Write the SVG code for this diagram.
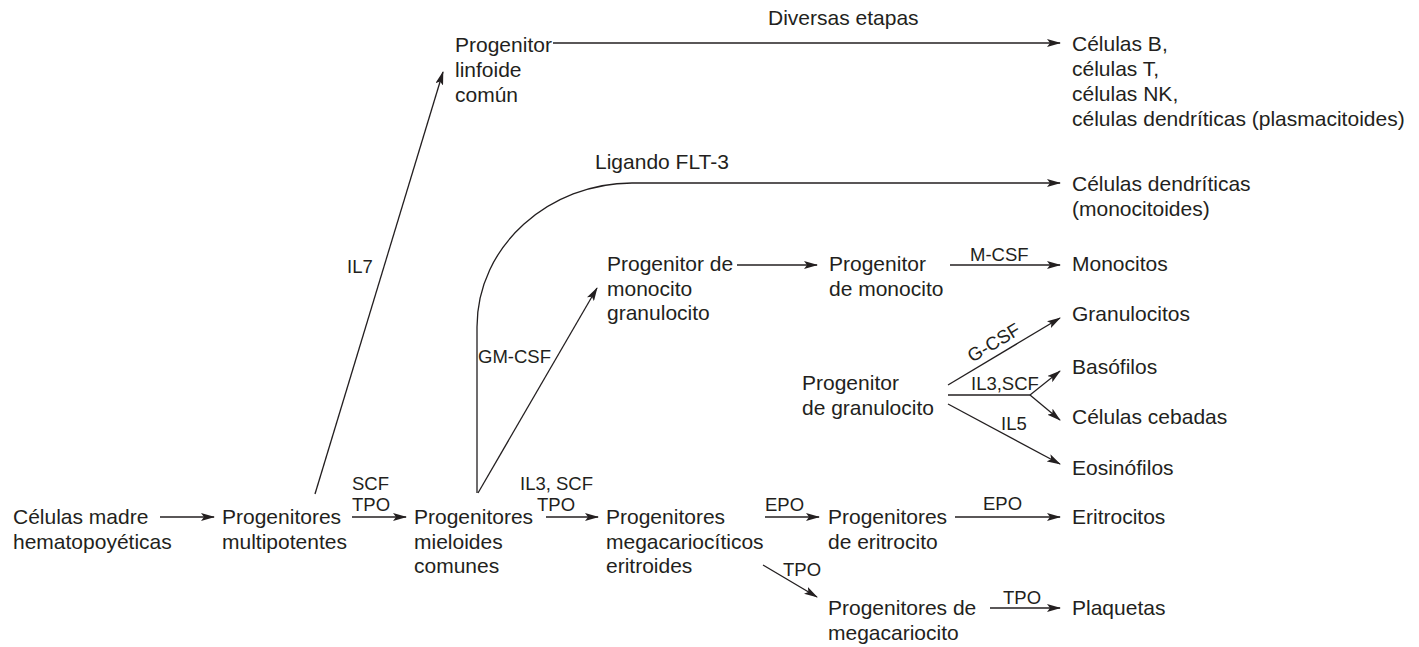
<svg xmlns="http://www.w3.org/2000/svg" width="1419" height="647" viewBox="0 0 1419 647">
<defs>
<marker id="ah" viewBox="0 0 14 8" markerWidth="14" markerHeight="8" refX="13" refY="4" orient="auto" markerUnits="userSpaceOnUse">
<path d="M0,0 L14,4 L0,8 L3,4 z" fill="#231f20"/>
</marker>
<style>
text{font-family:"Liberation Sans",Arial,sans-serif;fill:#231f20}
.n{font-size:21px}
.l{font-size:18.5px}
.c{fill:none;stroke:#231f20;stroke-width:1.3}
.a{marker-end:url(#ah)}
</style>
</defs>
<rect width="1419" height="647" fill="#fff"/>
<g id="connectors">
<line class="c a" x1="160" y1="517" x2="214" y2="517"/>
<line class="c a" x1="352" y1="517" x2="406" y2="517"/>
<line class="c a" x1="315" y1="494" x2="443" y2="72"/>
<line class="c a" x1="553" y1="43" x2="1060" y2="43"/>
<path class="c a" d="M477,493 L477,327 C477,245 550,183 632,183 L1060,183"/>
<line class="c a" x1="478" y1="493" x2="597" y2="288"/>
<line class="c a" x1="737" y1="265" x2="817" y2="265"/>
<line class="c a" x1="950" y1="265" x2="1060" y2="265"/>
<line class="c a" x1="546" y1="517" x2="598" y2="517"/>
<line class="c a" x1="765" y1="517" x2="819" y2="517"/>
<line class="c a" x1="763" y1="565" x2="817" y2="597"/>
<line class="c a" x1="955" y1="517" x2="1060" y2="517"/>
<line class="c a" x1="990" y1="608" x2="1060" y2="608"/>
<line class="c a" x1="948" y1="385" x2="1060" y2="318"/>
<polyline class="c" points="948,395 1030,395"/>
<line class="c a" x1="1030" y1="395" x2="1060" y2="371"/>
<line class="c a" x1="1030" y1="395" x2="1060" y2="420"/>
<line class="c a" x1="948" y1="404" x2="1060" y2="464"/>
<text class="l" x="347" y="273">IL7</text>
<text class="n" x="768" y="25">Diversas etapas</text>
<text class="n" x="595" y="169">Ligando FLT-3</text>
<text class="l" x="478" y="363">GM-CSF</text>
<text class="l" x="970" y="261">M-CSF</text>
<text class="l" x="352" y="490">SCF</text>
<text class="l" x="352" y="511">TPO</text>
<text class="l" x="520" y="490">IL3, SCF</text>
<text class="l" x="537" y="511">TPO</text>
<text class="l" x="765" y="511">EPO</text>
<text class="l" x="783" y="576">TPO</text>
<text class="l" x="983" y="510">EPO</text>
<text class="l" x="1003" y="604">TPO</text>
<text class="l" transform="translate(997,348) rotate(-31)" text-anchor="middle">G-CSF</text>
<text class="l" x="971" y="390">IL3,SCF</text>
<text class="l" x="1001" y="430">IL5</text>
</g>
<g id="hsc"><text class="n" x="13" y="524">Células madre</text><text class="n" x="13" y="549">hematopoyéticas</text></g>
<g id="mpp"><text class="n" x="222" y="524">Progenitores</text><text class="n" x="222" y="549">multipotentes</text></g>
<g id="cmp"><text class="n" x="414" y="524">Progenitores</text><text class="n" x="414" y="549">mieloides</text><text class="n" x="414" y="573">comunes</text></g>
<g id="mep"><text class="n" x="606" y="524">Progenitores</text><text class="n" x="606" y="549">megacariocíticos</text><text class="n" x="606" y="573">eritroides</text></g>
<g id="ep"><text class="n" x="828" y="524">Progenitores</text><text class="n" x="828" y="549">de eritrocito</text></g>
<g id="ery"><text class="n" x="1072" y="524">Eritrocitos</text></g>
<g id="mkp"><text class="n" x="828" y="615">Progenitores de</text><text class="n" x="828" y="640">megacariocito</text></g>
<g id="plt"><text class="n" x="1072" y="615">Plaquetas</text></g>
<g id="clp"><text class="n" x="455" y="52">Progenitor</text><text class="n" x="455" y="77">linfoide</text><text class="n" x="455" y="102">común</text></g>
<g id="lymph"><text class="n" x="1072" y="51">Células B,</text><text class="n" x="1072" y="76">células T,</text><text class="n" x="1072" y="101">células NK,</text><text class="n" x="1072" y="126">células dendríticas (plasmacitoides)</text></g>
<g id="dc"><text class="n" x="1072" y="191">Células dendríticas</text><text class="n" x="1072" y="216">(monocitoides)</text></g>
<g id="gmp"><text class="n" x="607" y="271">Progenitor de</text><text class="n" x="607" y="296">monocito</text><text class="n" x="607" y="320">granulocito</text></g>
<g id="mop"><text class="n" x="829" y="271">Progenitor</text><text class="n" x="829" y="296">de monocito</text></g>
<g id="mono"><text class="n" x="1072" y="271">Monocitos</text></g>
<g id="gp"><text class="n" x="802" y="390">Progenitor</text><text class="n" x="802" y="415">de granulocito</text></g>
<g id="gran"><text class="n" x="1072" y="321">Granulocitos</text></g>
<g id="baso"><text class="n" x="1072" y="374">Basófilos</text></g>
<g id="mast"><text class="n" x="1072" y="424">Células cebadas</text></g>
<g id="eos"><text class="n" x="1072" y="475">Eosinófilos</text></g>
</svg>
